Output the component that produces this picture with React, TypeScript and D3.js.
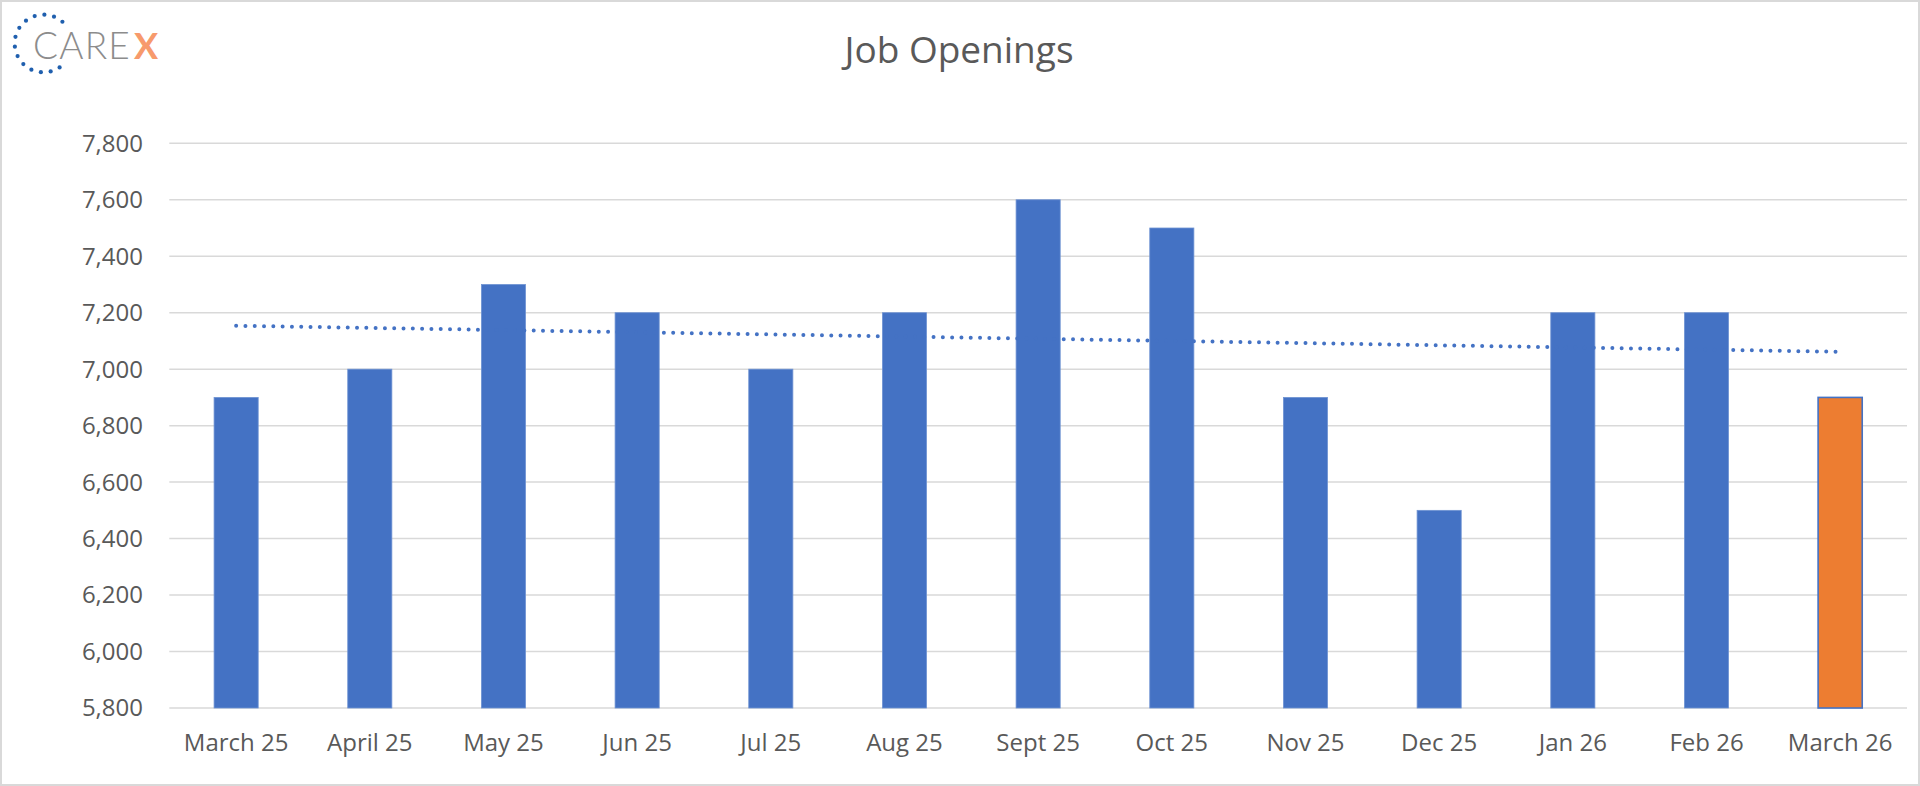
import React from "react";
import * as d3 from "d3";

const categories = ["March 25","April 25","May 25","Jun 25","Jul 25","Aug 25","Sept 25","Oct 25","Nov 25","Dec 25","Jan 26","Feb 26","March 26"];
const values = [6900,7000,7300,7200,7000,7200,7600,7500,6900,6500,7200,7200,6900];
const highlighted = ["March 26"];
const yTicks = [5800,6000,6200,6400,6600,6800,7000,7200,7400,7600,7800];
const title = "Job Openings";

const W = 1920, H = 786;
const FONT = "'Open Sans', sans-serif";
const TEXT = "#595959";

export default function App() {
  const x = d3.scaleBand<string>().domain(categories).range([169.3, 1907]).paddingInner(0.67).paddingOuter(0.335);
  const y = d3.scaleLinear().domain([5800, 7800]).range([708, 143.3]);

  // linear trendline (least squares)
  const n = values.length;
  const xs = d3.range(n);
  const mx = d3.mean(xs)!, my = d3.mean(values)!;
  const slope = d3.sum(xs, (i) => (i - mx) * (values[i] - my)) / d3.sum(xs, (i) => (i - mx) ** 2);
  const trendPts: [number, number][] = xs.map((i) => [x(categories[i])! + x.bandwidth() / 2, y(my + slope * (i - mx))]);
  const trendPath = d3.line()([trendPts[0], trendPts[n - 1]])!;

  // logo dots
  const cx = 43.5, cy = 43.5, r = 28.8;
  const a0 = -49, a1 = 56 - 360;
  const dots = d3.range(14).map((k) => {
    const a = ((a0 + (a1 - a0) * (k / 13)) * Math.PI) / 180;
    return [cx + r * Math.cos(a), cy + r * Math.sin(a)];
  });

  return (
    <svg width={W} height={H} style={{ position: "absolute", left: 0, top: 0, background: "#fff" }}>
      <rect x={1} y={1} width={W - 2} height={H - 2} fill="#fff" stroke="#d9d9d9" strokeWidth={2} />
      <g>
        {dots.map((d, i) => (
          <circle key={i} cx={d[0]} cy={d[1]} r={2.1} fill="#1f5fae" />
        ))}
        <text x={33} y={58.5} fontFamily="Lato, sans-serif" fontWeight={300} fontSize={37} fill="#8c8c8c" letterSpacing={1.2}>CARE</text>
        <text x={134} y={58.5} fontFamily="Lato, sans-serif" fontWeight={700} fontSize={36} fill="#f79a6c">X</text>
      </g>
      <text x={959} y={63.3} textAnchor="middle" fontFamily={FONT} fontSize={37} fill={TEXT}>{title}</text>
      {yTicks.map((t) => (
        <line key={t} x1={169.3} x2={1907} y1={y(t)} y2={y(t)} stroke="#d9d9d9" strokeWidth={1.5} />
      ))}
      {yTicks.map((t) => (
        <text key={"l" + t} x={143} y={y(t)} dy="0.35em" textAnchor="end" fontFamily={FONT} fontSize={24} fill={TEXT}>
          {d3.format(",")(t)}
        </text>
      ))}
      {categories.map((c, i) => {
        const hi = highlighted.includes(c);
        return (
          <rect key={c} x={x(c)!} y={y(values[i])} width={x.bandwidth()} height={y(5800) - y(values[i])}
            fill={hi ? "#ed7d31" : "#4472c4"} stroke={hi ? "#4472c4" : "#6f93d3"} strokeWidth={hi ? 1.6 : 0.8} />
        );
      })}
      {categories.map((c) => (
        <text key={"x" + c} x={x(c)! + x.bandwidth() / 2} y={743} dy="0.35em" textAnchor="middle" fontFamily={FONT} fontSize={24} fill={TEXT}>
          {c}
        </text>
      ))}
      <path d={trendPath} fill="none" stroke="#4472c4" strokeWidth={4} strokeLinecap="round" strokeDasharray="0 9.3" />
    </svg>
  );
}
